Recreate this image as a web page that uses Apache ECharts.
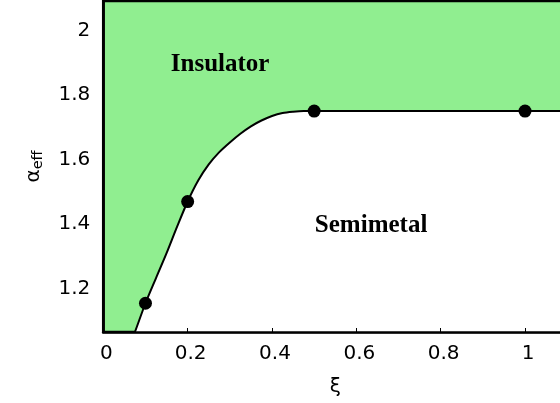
<!DOCTYPE html>
<html>
<head>
<meta charset="utf-8">
<script src="https://cdn.jsdelivr.net/npm/echarts@6/dist/echarts.min.js"></script>
<style>html,body{margin:0;padding:0;background:#fff}#c{width:560px;height:403px}</style>
</head>
<body>
<div id="c"></div>
<script>
// Phase boundary curve
const curveX = [0.05, 0.075, 0.1, 0.125, 0.15, 0.175, 0.2, 0.225, 0.25, 0.275, 0.3, 0.325, 0.35, 0.375, 0.4, 0.425, 0.45, 0.475, 0.5, 0.6, 0.8, 1.0, 1.1];
const curveY = [0.98, 1.066, 1.155, 1.233, 1.31, 1.392, 1.47, 1.535, 1.585, 1.623, 1.653, 1.68, 1.703, 1.721, 1.735, 1.744, 1.748, 1.75, 1.75, 1.75, 1.75, 1.75, 1.75];
// Computed points (markers)
const pointsX = [0.1, 0.2, 0.5, 1.0];
const pointsY = [1.155, 1.47, 1.75, 1.75];
// Region labels
const regionNames = ['Insulator', 'Semimetal'];
const regionX = [0.277, 0.635];
const regionY = [1.893, 1.397];
// Axis ranges
const xRange = [0, 1.1];
const yRange = [1.066, 2.091];

const chart = echarts.init(document.getElementById('c'), null, {renderer: 'canvas'});
const font = 'DejaVu Sans';
chart.setOption({
  animation: false,
  grid: {
    left: 103.3, right: -7.2, top: 1, bottom: 71,
    outerBoundsMode: 'none', containLabel: false,
    show: true, backgroundColor: '#90EE90', borderColor: '#000', borderWidth: 2.7
  },
  xAxis: {
    type: 'value', min: xRange[0], max: xRange[1], interval: 0.2, z: 5,
    name: 'ξ', nameLocation: 'middle', nameGap: 45,
    nameTextStyle: {fontFamily: font, fontSize: 20, color: '#000'},
    axisLine: {show: true, onZero: false, lineStyle: {color: '#000', width: 2.7}},
    axisTick: {show: true, inside: true, length: 4, lineStyle: {color: '#000', width: 1}},
    axisLabel: {fontFamily: font, fontSize: 20, color: '#000', margin: 12, showMaxLabel: false,
      padding: [0, 0, 0, 6]},
    splitLine: {show: false}
  },
  yAxis: {
    type: 'value', min: yRange[0], max: yRange[1], z: 5,
    name: '{a|α}{b|eff}', nameLocation: 'middle', nameGap: 58, nameRotate: 90,
    nameTextStyle: {
      fontFamily: font, color: '#000',
      rich: {
        a: {fontFamily: font, fontSize: 20, color: '#000', lineHeight: 22, verticalAlign: 'top'},
        b: {fontFamily: font, fontSize: 14.5, color: '#000', lineHeight: 14, verticalAlign: 'bottom'}
      }
    },
    axisLine: {show: true, onZero: false, lineStyle: {color: '#000', width: 2.7}},
    axisTick: {show: false},
    axisLabel: {fontFamily: font, fontSize: 20, color: '#000', margin: 13,
      showMinLabel: false, showMaxLabel: false,
      formatter: function (v) {
        const r = Math.round(v * 10) / 10;
        if (Math.abs(r - v) > 1e-6 || Math.round(r * 10) % 2 !== 0) return '';
        return String(r);
      }},
    splitLine: {show: false}
  },
  series: [
    {
      type: 'line', smooth: 0.3, showSymbol: false, z: 2,
      data: curveX.map((x, i) => [x, curveY[i]]),
      lineStyle: {color: '#000', width: 2},
      areaStyle: {color: '#fff', opacity: 1, origin: 'start'}
    },
    {
      type: 'scatter', symbol: 'circle', symbolSize: 13, z: 4,
      data: pointsX.map((x, i) => [x, pointsY[i]]),
      itemStyle: {color: '#000', opacity: 1}
    }
  ]
});
chart.setOption({
  graphic: regionNames.map((n, i) => {
    const p = chart.convertToPixel({gridIndex: 0}, [regionX[i], regionY[i]]);
    return {
      type: 'text', x: p[0], y: p[1], z: 10,
      style: {text: n, fill: '#000', font: 'bold 25px "Liberation Serif"',
        textAlign: 'center', textVerticalAlign: 'middle'}
    };
  })
});
</script>
</body>
</html>
